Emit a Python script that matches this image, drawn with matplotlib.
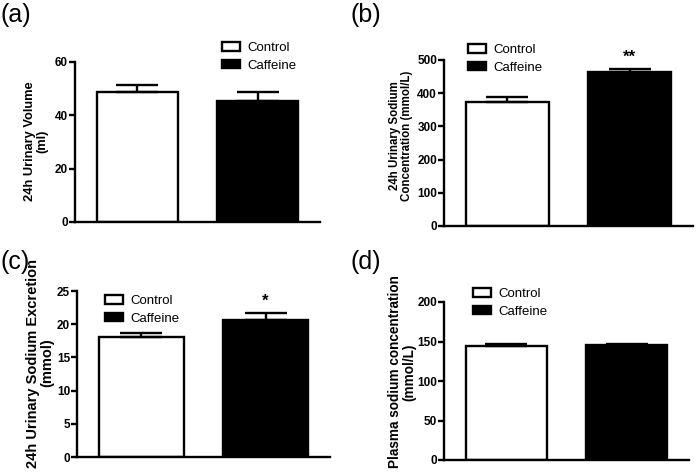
import matplotlib
matplotlib.use("Agg")
import matplotlib.pyplot as plt
from matplotlib.patches import Patch

plt.rcParams['font.family'] = ['Liberation Sans', 'DejaVu Sans']

# --- data ---
groups = ['Control', 'Caffeine']

vol_mean = [48.9, 45.4]
vol_err = [2.4, 3.4]

conc_mean = [375, 463]
conc_err = [14, 10]

excr_mean = [18.0, 20.6]
excr_err = [0.7, 1.1]

plasma_mean = [144, 145]
plasma_err = [2.5, 1.5]

W, H = 697, 476
fig = plt.figure(figsize=(W / 100, H / 100), dpi=100)


def px_axes(x0, x1, ytop, ybot):
    return fig.add_axes([x0 / W, 1 - ybot / H, (x1 - x0) / W, (ybot - ytop) / H])


def panel(rect, means, errs, ymax, ystep, ylabel, lab_xy, lab_size, letter, letter_xy,
          leg_xy, star=None):
    ax = px_axes(*rect)
    ax.bar([0, 1], means, width=0.68, color=['white', 'black'],
           edgecolor='black', linewidth=1.7, zorder=2)
    ax.errorbar([0, 1], means, yerr=[[0, 0], errs], fmt='none', ecolor='black',
                elinewidth=1.7, capsize=15, capthick=1.7, zorder=3)
    ax.set_xlim(-0.52, 1.52)
    ax.set_ylim(0, ymax)
    ax.set_yticks(range(0, ymax + 1, ystep))
    ax.set_xticks([])
    for s in ['top', 'right']:
        ax.spines[s].set_visible(False)
    for s in ['left', 'bottom']:
        ax.spines[s].set_linewidth(1.7)
    ax.tick_params(axis='y', length=4, width=1.7, pad=1, labelsize=8.5)
    for t in ax.get_yticklabels():
        t.set_fontweight('bold')
    fig.text(lab_xy[0] / W, 1 - lab_xy[1] / H, ylabel, rotation=90, ha='center',
             va='center', fontsize=lab_size, fontweight='bold', linespacing=1.05)
    fig.text(letter_xy[0] / W, 1 - letter_xy[1] / H, letter, fontsize=18,
             ha='left', va='center')
    handles = [Patch(facecolor='white', edgecolor='black', linewidth=1.7),
               Patch(facecolor='black', edgecolor='black', linewidth=1.7)]
    ax.legend(handles, groups, loc='upper left',
              bbox_to_anchor=(leg_xy[0] / W, 1 - leg_xy[1] / H),
              bbox_transform=fig.transFigure, frameon=False, fontsize=9.5,
              borderpad=0, borderaxespad=0, handlelength=1.35, handleheight=0.6,
              handletextpad=0.6, labelspacing=0.45)
    if star:
        ax.annotate(star, (1, means[1] + errs[1]), xytext=(0, 3),
                    textcoords='offset points', ha='center', va='bottom',
                    fontsize=12, fontweight='bold')
    return ax


panel((75, 320, 62, 222), vol_mean, vol_err, 60, 20,
      '24h Urinary Volume\n(ml)', (36, 141), 9.3, '(a)', (0, 15), (222, 42))
panel((444, 693, 60, 226), conc_mean, conc_err, 500, 100,
      '24h Urinary Sodium\nConcentration (mmol/L)', (401, 136), 8.3, '(b)', (350, 15),
      (468, 44), star='**')
panel((77, 330, 291, 457), excr_mean, excr_err, 25, 5,
      '24h Urinary Sodium Excretion\n(mmol)', (40, 363), 10.5, '(c)', (0, 262),
      (105, 295), star='*')
panel((444, 689, 302, 460), plasma_mean, plasma_err, 200, 50,
      'Plasma sodium concentration\n(mmol/L)', (402, 372), 9.8, '(d)', (350, 262),
      (473, 288))

fig.savefig('out.png', dpi=100)
